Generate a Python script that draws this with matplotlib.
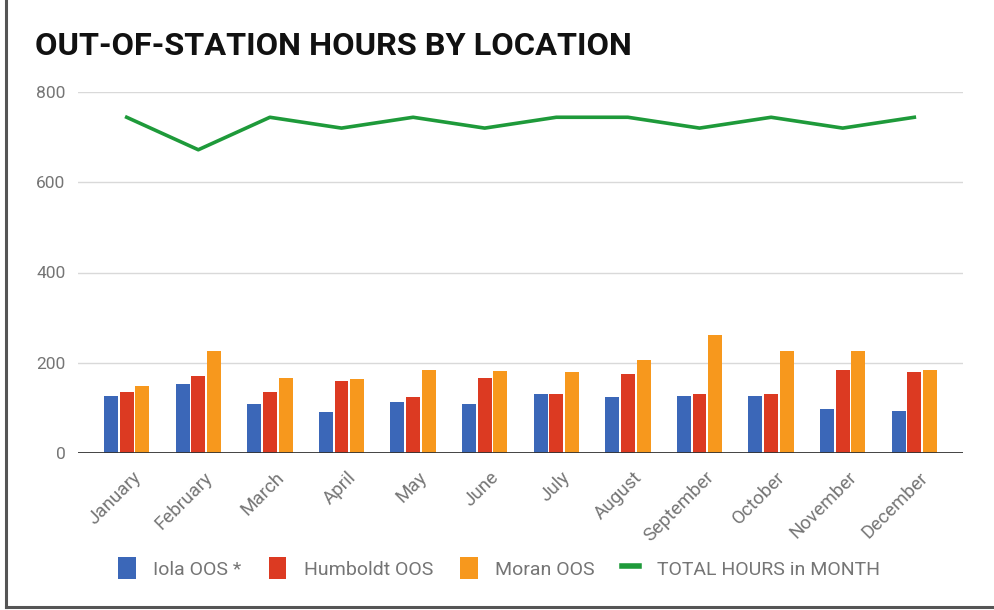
import matplotlib
matplotlib.use("Agg")
import matplotlib.pyplot as plt
import numpy as np
from matplotlib.patches import Patch
from matplotlib.lines import Line2D
from matplotlib.transforms import ScaledTranslation

months = ["January", "February", "March", "April", "May", "June", "July",
          "August", "September", "October", "November", "December"]
iola = [126, 154, 109, 91, 112, 109, 130, 124, 126, 126, 97, 94]
humboldt = [135, 170, 135, 159, 123, 166, 130, 174, 130, 130, 184, 180]
moran = [148, 225, 166, 163, 184, 181, 180, 206, 261, 225, 225, 184]
total = [744, 672, 744, 720, 744, 720, 744, 744, 720, 744, 720, 744]
series_names = ["Iola OOS *", "Humboldt OOS", "Moran OOS", "TOTAL HOURS in MONTH"]
yticks = [0, 200, 400, 600, 800]

c_blue, c_red, c_orange, c_green = "#3B67B8", "#DC3A22", "#F7981D", "#1E9A3A"
gray = "#757575"

plt.rcParams['font.family'] = ['Roboto', 'DejaVu Sans']

fig = plt.figure(figsize=(9.95, 6.1), dpi=100)
ax = fig.add_axes([78/995, 1-453/610, 885/995, (453-92)/610])

x = np.arange(len(months))
off = 0.22
w = 0.195
ax.bar(x - off, iola, w, color=c_blue, zorder=3)
ax.bar(x, humboldt, w, color=c_red, zorder=3)
ax.bar(x + off, moran, w, color=c_orange, zorder=3)
ax.plot(x, total, color=c_green, lw=2.6, zorder=4, solid_joinstyle='round')

ax.set_xlim(-0.68, 11.68)
ax.set_ylim(0, 800)
ax.set_yticks(yticks)
ax.set_yticklabels([str(v) for v in yticks])
ax.grid(axis='y', color='#d9d9d9', lw=1, zorder=0)
ax.axhline(0, color='#333333', lw=2, zorder=5)
for s in ax.spines.values():
    s.set_visible(False)
ax.tick_params(axis='both', length=0, colors=gray)
ax.tick_params(axis='y', pad=9, labelsize=12.5)
ax.set_xticks(x)
ax.set_xticklabels(months, rotation=45, ha='right', rotation_mode='anchor',
                   color=gray, fontsize=13.5)
ax.tick_params(axis='x', pad=11)
for lbl in ax.get_xticklabels():
    lbl.set_transform(lbl.get_transform() + ScaledTranslation(0.05, 0, fig.dpi_scale_trans))

fig.text(35/995, 1-55/610, "OUT-OF-STATION HOURS BY LOCATION", fontsize=23.4,
         fontweight='bold', color='#111111', va='baseline', ha='left')

handles = [Patch(facecolor=c_blue), Patch(facecolor=c_red), Patch(facecolor=c_orange),
           Line2D([0], [0], color=c_green, lw=4)]
leg = fig.legend(handles, series_names, loc='center', bbox_to_anchor=(499/995, 1-568/610),
                 ncol=4, frameon=False, fontsize=14, handlelength=0.9, handleheight=1.3,
                 columnspacing=1.4, handletextpad=0.9)
for t in leg.get_texts():
    t.set_color(gray)

fig.add_artist(Line2D([6/995, 6/995], [1-607/610, 1], transform=fig.transFigure,
                      color='#555555', lw=2.2))
fig.add_artist(Line2D([6/995, 1], [1-607/610, 1-607/610], transform=fig.transFigure,
                      color='#555555', lw=2.2))

fig.savefig("out.png", dpi=100)
